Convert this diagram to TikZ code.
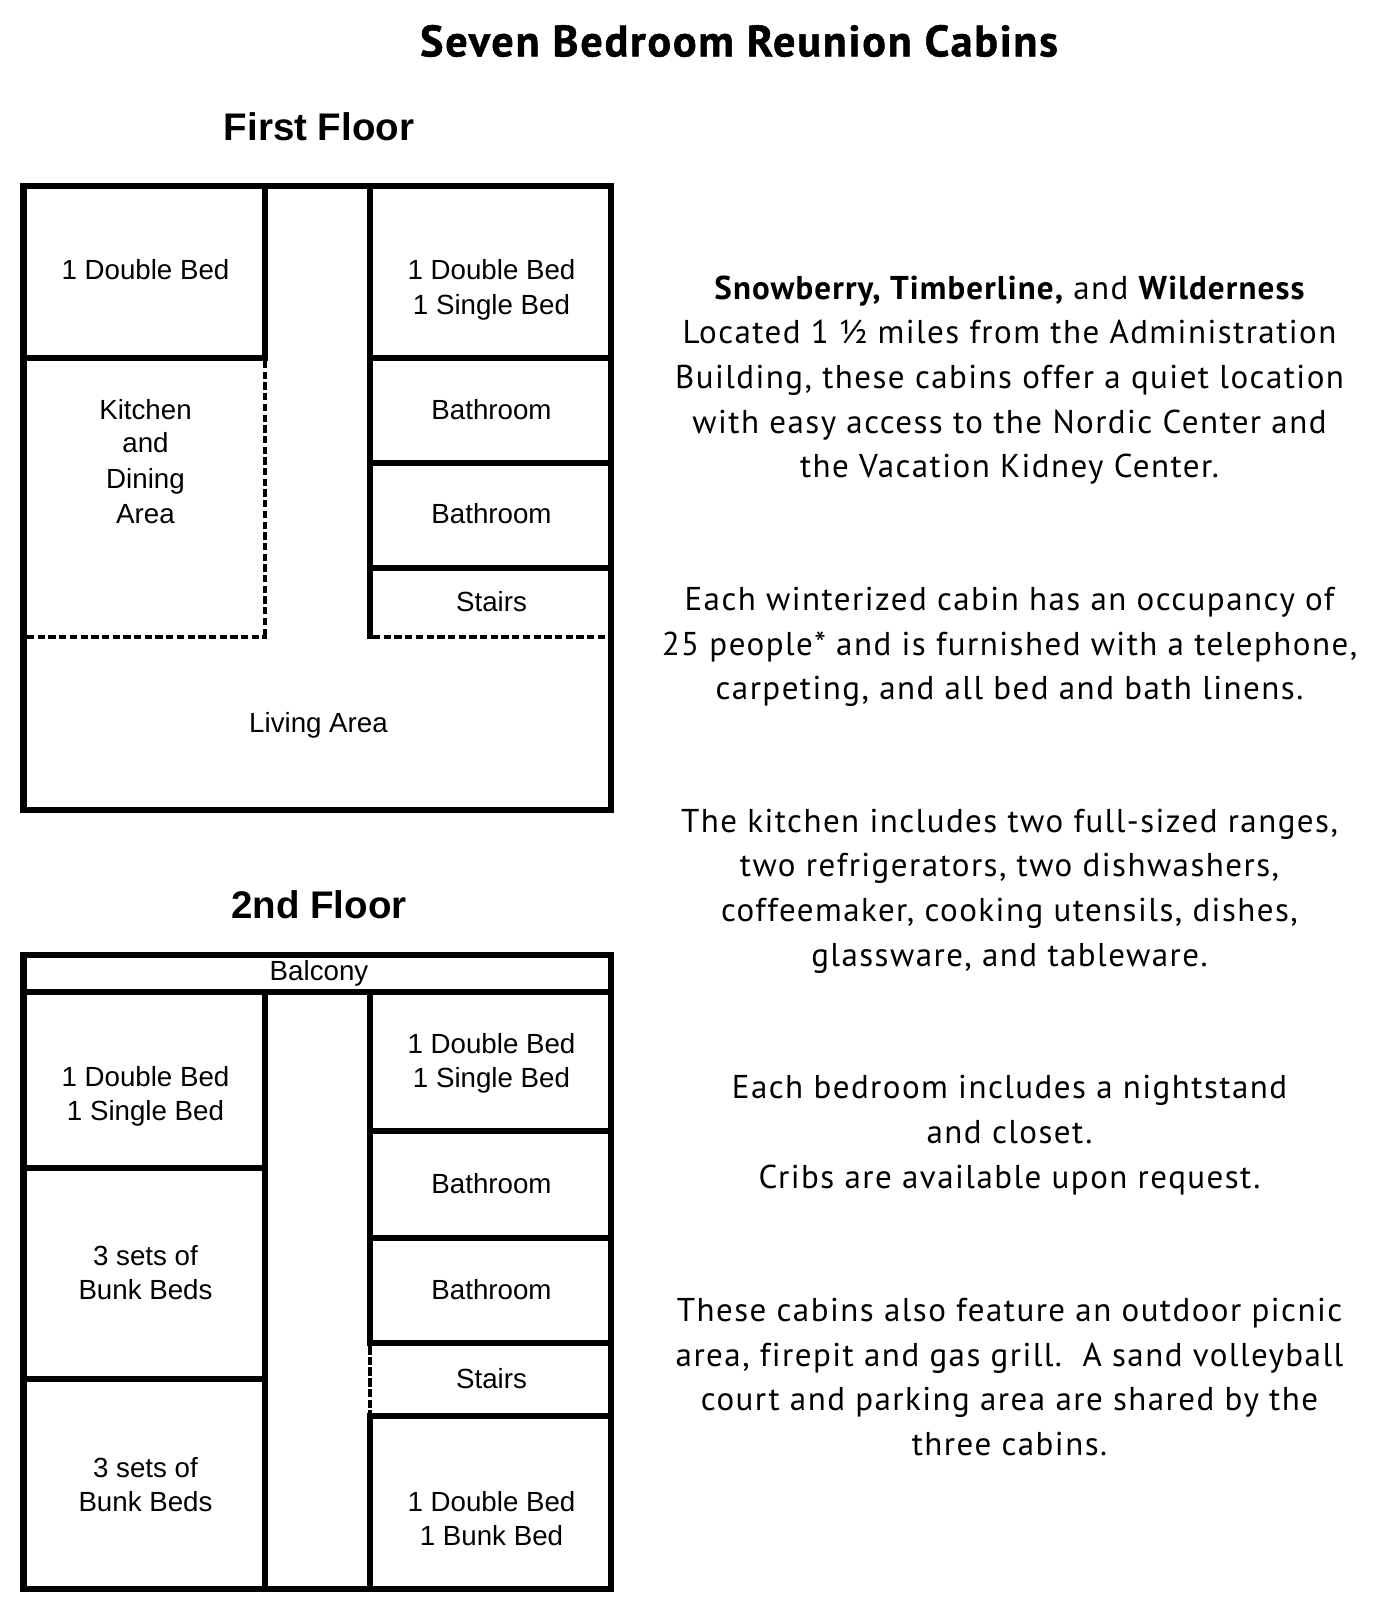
\documentclass[tikz,border=0pt]{standalone}
\usepackage{fontspec}
\setmainfont{Liberation Sans}
\newfontfamily\bodyfont[LetterSpace=4.4,Ligatures=NoCommon,BoldFeatures={LetterSpace=3.4,Ligatures=NoCommon}]{PT Sans}
\newfontfamily\titlefont[BoldFeatures={LetterSpace=4.2,FakeBold=1.2,Ligatures=NoCommon}]{PT Sans}
\tikzset{
  wall/.style={line width=6pt,line cap=butt},
  outerwall/.style={line width=6.5pt,line join=miter},
  dashwall/.style={line width=4pt,dash pattern=on 7.3pt off 3.4pt},
  thindash/.style={line width=4pt,dash pattern=on 8.5pt off 2.2pt},
  roomlabel/.style={align=center,inner sep=0pt,font=\fontsize{27.7}{34.5}\selectfont},
  floorhead/.style={inner sep=0pt,font=\fontsize{38.5}{44}\selectfont\bfseries},
  maintitle/.style={inner sep=0pt,font=\fontsize{44}{46}\selectfont\titlefont\bfseries},
  para/.style={align=center,inner sep=0pt,font=\fontsize{33}{44.7}\selectfont\bodyfont}
}
\begin{document}
\begin{tikzpicture}[x=1pt,y=-1pt]
\useasboundingbox (0,0) rectangle (1393,1611);
\fill[white] (0,0) rectangle (1393,1611);
% First floor
\draw[dashwall] (265,361) -- (265,639);
\draw[dashwall] (27,636.7) -- (267,636.7);
\draw[dashwall] (373,636.7) -- (611,636.7);
\draw[outerwall] (23.5,186) rectangle (611,810);
\draw[wall] (265,186) -- (265,361);
\draw[wall] (23.5,358) -- (268,358);
\draw[wall] (370,186) -- (370,639);
\draw[wall] (370,358) -- (611,358);
\draw[wall] (370,463) -- (611,463);
\draw[wall] (370,567.5) -- (611,567.5);
% Second floor
\draw[outerwall] (23.5,955) rectangle (611,1589);
\draw[wall] (23.5,992) -- (611,992);
\draw[wall] (265,992) -- (265,1589);
\draw[wall] (370,992) -- (370,1346);
\draw[thindash] (370,1346) -- (370,1413);
\draw[wall] (370,1413) -- (370,1589);
\draw[wall] (23.5,1167.5) -- (265,1167.5);
\draw[wall] (23.5,1379) -- (265,1379);
\draw[wall] (370,1131) -- (611,1131);
\draw[wall] (370,1238) -- (611,1238);
\draw[wall] (370,1343) -- (611,1343);
\draw[wall] (370,1415.7) -- (611,1415.7);
% Headings
\node[maintitle] (title) at (739,41) {Seven Bedroom Reunion Cabins};
\node[floorhead] (first) at (319,127) {First Floor};
\node[floorhead] (second) at (319,905) {2nd Floor};
% First floor labels
\node[roomlabel] (f1) at (145.5,270) {1 Double Bed};
\node[roomlabel] (f2) at (491.5,290) {1 Double Bed\\1 Single Bed};
\node[roomlabel] (f3) at (145.5,461.5) {Kitchen\\[-1.7pt]and\\[1.5pt]Dining\\Area};
\node[roomlabel] (f4) at (491.5,410) {Bathroom};
\node[roomlabel] (f5) at (491.5,514) {Bathroom};
\node[roomlabel] (f6) at (491.5,602) {Stairs};
\node[roomlabel] (f7) at (318.5,725) {Living Area};
% Second floor labels
\node[roomlabel] (s0) at (319,973) {Balcony};
\node[roomlabel] (s1) at (145.5,1096.5) {1 Double Bed\\1 Single Bed};
\node[roomlabel] (s2) at (145.5,1272.5) {3 sets of\\Bunk Beds};
\node[roomlabel] (s3) at (145.5,1484.5) {3 sets of\\Bunk Beds};
\node[roomlabel] (s4) at (491.5,1063.5) {1 Double Bed\\1 Single Bed};
\node[roomlabel] (s5) at (491.5,1184) {Bathroom};
\node[roomlabel] (s6) at (491.5,1290) {Bathroom};
\node[roomlabel] (s7) at (491.5,1379) {Stairs};
\node[roomlabel] (s8) at (491.5,1518.5) {1 Double Bed\\1 Bunk Bed};
% Right column
\node[para] (p1) at (1009.5,380) {{\bfseries Snowberry, Timberline,} and {\bfseries Wilderness}\\Located 1 ½ miles from the Administration\\Building, these cabins offer a quiet location\\with easy access to the Nordic Center and\\the Vacation Kidney Center.};
\node[para] (p2) at (1009.5,647) {Each winterized cabin has an occupancy of\\25 people* and is furnished with a telephone,\\carpeting, and all bed and bath linens.};
\node[para] (p3) at (1009.5,891) {The kitchen includes two full-sized ranges,\\two refrigerators, two dishwashers,\\coffeemaker, cooking utensils, dishes,\\glassware, and tableware.};
\node[para] (p4) at (1009.5,1135) {Each bedroom includes a nightstand\\and closet.\\Cribs are available upon request.};
\node[para] (p5) at (1009.5,1377) {These cabins also feature an outdoor picnic\\area, firepit and gas grill.\ \ A sand volleyball\\court and parking area are shared by the\\three cabins.};
\end{tikzpicture}
\end{document}
